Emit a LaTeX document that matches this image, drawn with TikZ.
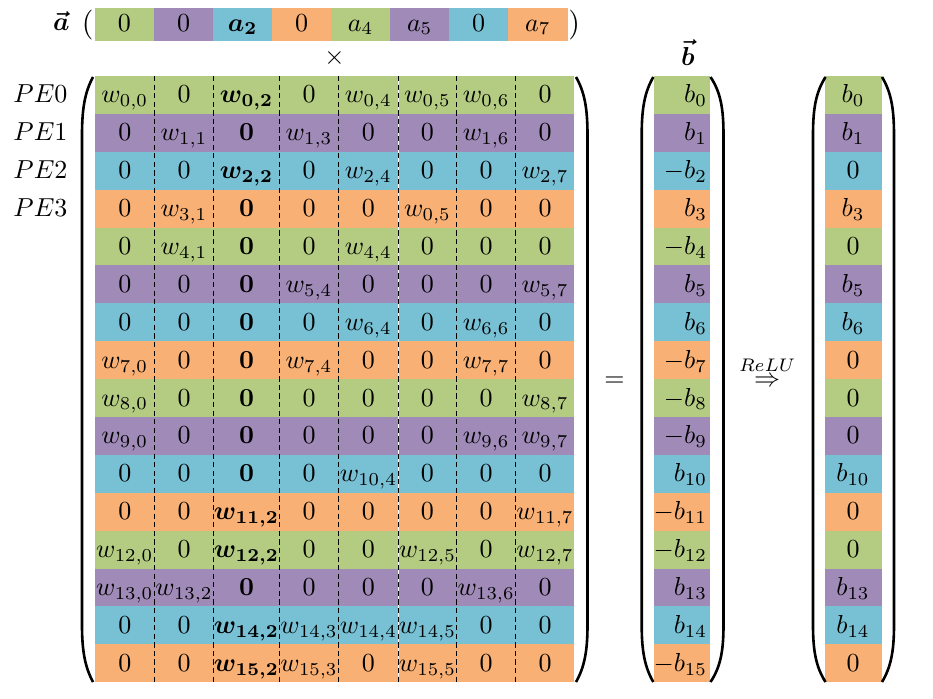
\documentclass[tikz,border=0pt]{standalone}
\usepackage{amsmath,amssymb,amsfonts}
\usepackage{xcolor}
\usepackage{tikz}
\usetikzlibrary{positioning}

\definecolor{row0}{RGB}{180,204,130}
\definecolor{row1}{RGB}{160,138,184}
\definecolor{row2}{RGB}{120,192,212}
\definecolor{row3}{RGB}{248,176,116}

\newcommand{\wel}[2]{w_{#1,#2}}
\newcommand{\wbold}[2]{\boldsymbol{w_{#1,#2}}}
\newcommand{\zbold}{\boldsymbol{0}}
% big brackets: left end x, left straight x, right end x, right straight x
\newcommand{\bigparens}[4]{%
    \draw[paren] (#1,77) .. controls (#2+3,92) and (#2,108) .. (#2,135) -- (#2,625) .. controls (#2,651) and (#2+3,667) .. (#1,682);
    \draw[paren] (#3,77) .. controls (#4-3,92) and (#4,108) .. (#4,135) -- (#4,625) .. controls (#4,651) and (#4-3,667) .. (#3,682);}

\begin{document}
\begin{tikzpicture}[x=0.3846pt, y=-0.3846pt,
    cell/.style={anchor=base, inner sep=0pt},
    paren/.style={line width=1pt},
    sep/.style={black, line width=0.5pt, dash pattern=on 2pt off 1.3pt}]
    \useasboundingbox (0,0) rectangle (933,699);
    \def\colmid{{124.75,184,246.5,309,368.35,427.45,486.2,545}}
    % Vector a
    \foreach \e [count=\k from 0] in {0,0,\boldsymbol{a_2},0,a_4,a_5,0,a_7} {
        \pgfmathtruncatemacro\m{mod(\k,4)}
        \fill[row\m] (95+\k*59.04,8) rectangle (95+\k*59.04+59.3,40.7);
        \node[cell] (a-\k) at (124.5+\k*59.04,31) {$\e$};
    }
    \node[cell, anchor=base east] (a-lbl) at (70,30) {$\boldsymbol{\vec{a}}$};
    \node[cell, anchor=base east, scale=1.15] (a-open) at (94,32.2) {$($};
    \node[cell, anchor=base west, scale=1.15] (a-close) at (567.8,32.2) {$)$};
    \node (times) at (334.5,58) {$\times$};
    % Matrix W, b and ReLU(b)
    \foreach \r/\ent/\bv/\res in {
        0/{\wel00,0,\wbold02,0,\wel04,\wel05,\wel06,0}/b_0/b_0,
        1/{0,\wel11,\zbold,\wel13,0,0,\wel16,0}/b_1/b_1,
        2/{0,0,\wbold22,0,\wel24,0,0,\wel27}/-b_2/0,
        3/{0,\wel31,\zbold,0,0,\wel05,0,0}/b_3/b_3,
        4/{0,\wel41,\zbold,0,\wel44,0,0,0}/-b_4/0,
        5/{0,0,\zbold,\wel54,0,0,0,\wel57}/b_5/b_5,
        6/{0,0,\zbold,0,\wel64,0,\wel66,0}/b_6/b_6,
        7/{\wel70,0,\zbold,\wel74,0,0,\wel77,0}/-b_7/0,
        8/{\wel80,0,\zbold,0,0,0,0,\wel87}/-b_8/0,
        9/{\wel90,0,\zbold,0,0,0,\wel96,\wel97}/-b_9/0,
        10/{0,0,\zbold,0,\wel{10}4,0,0,0}/b_{10}/b_{10},
        11/{0,0,\wbold{11}2,0,0,0,0,\wel{11}7}/-b_{11}/0,
        12/{\wel{12}0,0,\wbold{12}2,0,0,\wel{12}5,0,\wel{12}7}/-b_{12}/0,
        13/{\wel{13}0,\wel{13}2,\zbold,0,0,0,\wel{13}6,0}/b_{13}/b_{13},
        14/{0,0,\wbold{14}2,\wel{14}3,\wel{14}4,\wel{14}5,0,0}/b_{14}/b_{14},
        15/{0,0,\wbold{15}2,\wel{15}3,0,\wel{15}5,0,0}/-b_{15}/0} {
        \pgfmathtruncatemacro\m{mod(\r,4)}
        \pgfmathsetmacro\rtop{76+\r*37.89}
        \pgfmathsetmacro\rbot{min(\rtop+38.4,682.3)}
        \pgfmathsetmacro\base{\rtop+26.9}
        \fill[row\m] (95,\rtop) rectangle (574.3,\rbot);
        \fill[row\m] (654,\rtop) rectangle (709.5,\rbot);
        \fill[row\m] (825,\rtop) rectangle (881.5,\rbot);
        \foreach \e [count=\c from 0] in \ent {
            \pgfmathsetmacro\cx{\colmid[\c]}
            \node[cell] (w-\r-\c) at (\cx,\base) {$\e$};
        }
        \node[cell, anchor=base east] (b-\r) at (707.5,\base) {$\bv$};
        \node[cell] (out-\r) at (853,\base) {$\res$};
    }
    % Column separators
    \draw[white, line width=0.5pt] (398.2,76) -- (398.2,682.3);
    \foreach \x in {154.5,213.5,279.5,338.5,398.2,456.7,515.7}
        \draw[sep] (\x,76) -- (\x,682.3);
    % PE labels
    \foreach \r in {0,...,3} {
        \pgfmathsetmacro\base{76+\r*37.89+26.9}
        \node[cell, anchor=base east] (pe-\r) at (68,\base) {$PE\r$};
    }
    % Brackets
    \bigparens{93}{82}{576}{587.5}
    \bigparens{653.3}{641.7}{710.5}{723.5}
    \bigparens{825.5}{813}{882}{894}
    % b, equals and ReLU
    \node[cell] (b-lbl) at (688,65) {$\boldsymbol{\vec{b}}$};
    \node[cell] (eq) at (614.5,386.5) {$=$};
    \node[cell] (relu) at (767,386) {$\stackrel{ReLU}{\Rightarrow}$};
\end{tikzpicture}
\end{document}
